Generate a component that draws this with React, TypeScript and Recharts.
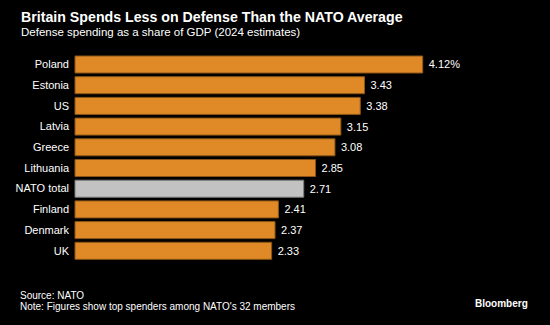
import React from 'react';
import { BarChart, Bar, XAxis, YAxis, Cell, LabelList } from 'recharts';

const countries = ['Poland', 'Estonia', 'US', 'Latvia', 'Greece', 'Lithuania', 'NATO total', 'Finland', 'Denmark', 'UK'];
const spending = [4.12, 3.43, 3.38, 3.15, 3.08, 2.85, 2.71, 2.41, 2.37, 2.33];

const data = countries.map((name, i) => ({ name, value: spending[i] }));

const ORANGE = '#df8a27';
const ORANGE_EDGE = '#8c5516';
const GREY = '#c2c2c2';
const GREY_EDGE = '#7a7a7a';
const FONT = '"Liberation Sans", Arial, sans-serif';

const App: React.FC = () => {
  return (
    <div style={{ position: 'absolute', left: 0, top: 0, width: 550, height: 325, background: '#000', fontFamily: FONT, color: '#fff', overflow: 'hidden' }}>
      <div style={{ position: 'absolute', left: 21, top: 9, fontSize: 14.2, fontWeight: 700 }}>
        Britain Spends Less on Defense Than the NATO Average
      </div>
      <div style={{ position: 'absolute', left: 21, top: 26, fontSize: 11.5 }}>
        Defense spending as a share of GDP (2024 estimates)
      </div>
      <div style={{ position: 'absolute', left: 0, top: 0 }}>
        <BarChart
          width={550}
          height={325}
          data={data}
          layout="vertical"
          margin={{ top: 54, right: 53, bottom: 64, left: 0 }}
        >
          <XAxis type="number" domain={[0, 5]} hide />
          <YAxis
            type="category"
            dataKey="name"
            width={75}
            axisLine={false}
            tickLine={false}
            tickSize={0}
            tickMargin={6}
            tick={{ fill: '#ffffff', fontSize: 11, fontFamily: FONT }}
          />
          <Bar dataKey="value" barSize={17} isAnimationActive={false}>
            {data.map((d, i) => (
              <Cell
                key={`cell-${i}`}
                fill={d.name === 'NATO total' ? GREY : ORANGE}
                stroke={d.name === 'NATO total' ? GREY_EDGE : ORANGE_EDGE}
                strokeWidth={1}
              />
            ))}
            <LabelList
              dataKey="value"
              position="right"
              offset={6}
              fill="#ffffff"
              fontSize={11}
              fontFamily={FONT}
              formatter={(v: any) => (v === spending[0] ? `${Number(v).toFixed(2)}%` : Number(v).toFixed(2))}
            />
          </Bar>
        </BarChart>
      </div>
      <div style={{ position: 'absolute', left: 20, top: 290, fontSize: 10, fontFamily: '"Liberation Sans Narrow", sans-serif', lineHeight: '11px' }}>
        Source: NATO
        <br />
        Note: Figures show top spenders among NATO's 32 members
      </div>
      <div style={{ position: 'absolute', left: 475, top: 298, fontSize: 10, fontWeight: 700 }}>
        Bloomberg
      </div>
    </div>
  );
};

export default App;
